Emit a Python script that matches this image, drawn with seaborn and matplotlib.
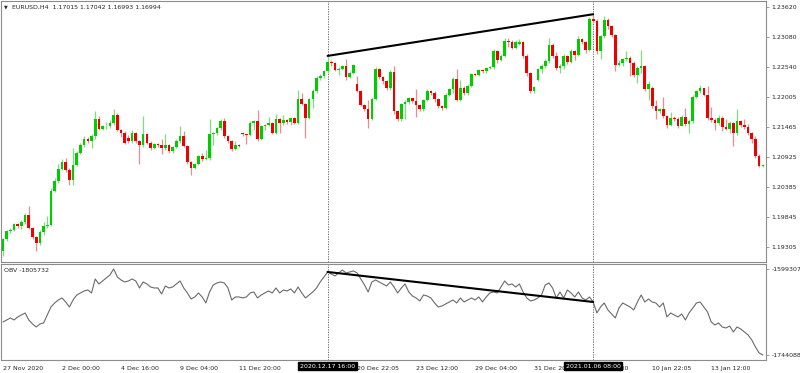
import numpy as np
import pandas as pd
import matplotlib.pyplot as plt
import matplotlib.transforms as mtransforms
import seaborn as sns

# EURUSD H4 candles, bar by bar
opens = [
    1.1922, 1.1944, 1.1958, 1.1961, 1.1971, 1.1968, 1.1975, 1.1988, 1.1964, 1.1948,
    1.1938, 1.1957, 1.1968, 1.1970, 1.2031, 1.2048, 1.2070, 1.2083, 1.2069, 1.2051,
    1.2077, 1.2099, 1.2114, 1.2124, 1.2121, 1.2130, 1.2161, 1.2143, 1.2147, 1.2148,
    1.2154, 1.2168, 1.2141, 1.2136, 1.2127, 1.2120, 1.2135, 1.2120, 1.2114, 1.2133,
    1.2118, 1.2109, 1.2115, 1.2113, 1.2108, 1.2113, 1.2103, 1.2110, 1.2121, 1.2130,
    1.2112, 1.2083, 1.2073, 1.2079, 1.2094, 1.2088, 1.2090, 1.2133, 1.2135, 1.2144,
    1.2157, 1.2130, 1.2121, 1.2106, 1.2113, 1.2135, 1.2133, 1.2132, 1.2154, 1.2156,
    1.2124, 1.2147, 1.2149, 1.2153, 1.2136, 1.2160, 1.2153, 1.2158, 1.2155, 1.2162,
    1.2154, 1.2196, 1.2187, 1.2162, 1.2196, 1.2211, 1.2234, 1.2238, 1.2246, 1.2263,
    1.2261, 1.2249, 1.2250, 1.2255, 1.2236, 1.2243, 1.2223, 1.2211, 1.2186, 1.2178,
    1.2161, 1.2196, 1.2250, 1.2236, 1.2228, 1.2217, 1.2245, 1.2174, 1.2160, 1.2187,
    1.2191, 1.2198, 1.2192, 1.2185, 1.2178, 1.2195, 1.2210, 1.2207, 1.2196, 1.2184,
    1.2180, 1.2204, 1.2214, 1.2232, 1.2195, 1.2216, 1.2207, 1.2220, 1.2241, 1.2240,
    1.2249, 1.2246, 1.2252, 1.2254, 1.2283, 1.2267, 1.2274, 1.2301, 1.2299, 1.2289,
    1.2295, 1.2299, 1.2274, 1.2243, 1.2211, 1.2231, 1.2250, 1.2256, 1.2265, 1.2294,
    1.2273, 1.2252, 1.2255, 1.2274, 1.2263, 1.2283, 1.2276, 1.2304, 1.2299, 1.2285,
    1.2340, 1.2337, 1.2282, 1.2309, 1.2339, 1.2328, 1.2312, 1.2258, 1.2261, 1.2268,
    1.2270, 1.2262, 1.2240, 1.2252, 1.2256, 1.2214, 1.2216, 1.2184, 1.2174, 1.2178,
    1.2166, 1.2150, 1.2163, 1.2161, 1.2148, 1.2164, 1.2151, 1.2157, 1.2200, 1.2210,
    1.2216, 1.2204, 1.2162, 1.2159, 1.2153, 1.2163, 1.2146, 1.2143, 1.2153, 1.2135,
    1.2156, 1.2150, 1.2146, 1.2135, 1.2124, 1.2093, 1.2076,
]
highs = [
    1.1947, 1.1960, 1.1964, 1.1974, 1.1974, 1.1978, 1.1991, 1.2003, 1.1966, 1.1950,
    1.1960, 1.1975, 1.1986, 1.2036, 1.2055, 1.2080, 1.2088, 1.2090, 1.2073, 1.2108,
    1.2102, 1.2117, 1.2129, 1.2128, 1.2133, 1.2175, 1.2165, 1.2150, 1.2155, 1.2158,
    1.2178, 1.2172, 1.2143, 1.2138, 1.2131, 1.2140, 1.2137, 1.2123, 1.2166, 1.2136,
    1.2120, 1.2118, 1.2118, 1.2124, 1.2134, 1.2116, 1.2112, 1.2124, 1.2148, 1.2138,
    1.2114, 1.2085, 1.2081, 1.2096, 1.2100, 1.2104, 1.2160, 1.2137, 1.2146, 1.2160,
    1.2162, 1.2132, 1.2123, 1.2121, 1.2115, 1.2137, 1.2134, 1.2157, 1.2158, 1.2176,
    1.2150, 1.2152, 1.2164, 1.2155, 1.2170, 1.2163, 1.2167, 1.2160, 1.2164, 1.2164,
    1.2213, 1.2207, 1.2190, 1.2199, 1.2214, 1.2237, 1.2241, 1.2248, 1.2274, 1.2266,
    1.2263, 1.2254, 1.2258, 1.2268, 1.2246, 1.2260, 1.2237, 1.2213, 1.2188, 1.2195,
    1.2200, 1.2254, 1.2252, 1.2238, 1.2230, 1.2249, 1.2256, 1.2176, 1.2190, 1.2194,
    1.2200, 1.2199, 1.2215, 1.2187, 1.2197, 1.2214, 1.2212, 1.2210, 1.2198, 1.2186,
    1.2207, 1.2216, 1.2236, 1.2250, 1.2230, 1.2219, 1.2223, 1.2244, 1.2243, 1.2251,
    1.2251, 1.2254, 1.2256, 1.2286, 1.2285, 1.2277, 1.2307, 1.2306, 1.2302, 1.2302,
    1.2304, 1.2301, 1.2277, 1.2245, 1.2220, 1.2253, 1.2259, 1.2268, 1.2306, 1.2297,
    1.2281, 1.2259, 1.2277, 1.2276, 1.2286, 1.2285, 1.2310, 1.2306, 1.2301, 1.2344,
    1.2349, 1.2340, 1.2312, 1.2345, 1.2343, 1.2330, 1.2314, 1.2266, 1.2271, 1.2283,
    1.2273, 1.2264, 1.2255, 1.2285, 1.2258, 1.2228, 1.2220, 1.2195, 1.2181, 1.2200,
    1.2168, 1.2173, 1.2165, 1.2164, 1.2167, 1.2180, 1.2160, 1.2203, 1.2213, 1.2222,
    1.2217, 1.2220, 1.2182, 1.2162, 1.2167, 1.2165, 1.2160, 1.2156, 1.2155, 1.2178,
    1.2158, 1.2160, 1.2151, 1.2137, 1.2130, 1.2097, 1.2079,
]
lows = [
    1.1914, 1.1940, 1.1955, 1.1958, 1.1964, 1.1962, 1.1972, 1.1962, 1.1945, 1.1923,
    1.1934, 1.1952, 1.1965, 1.1967, 1.2029, 1.2046, 1.2068, 1.2065, 1.2042, 1.2041,
    1.2075, 1.2097, 1.2110, 1.2117, 1.2108, 1.2125, 1.2140, 1.2140, 1.2143, 1.2145,
    1.2150, 1.2138, 1.2128, 1.2115, 1.2117, 1.2117, 1.2117, 1.2079, 1.2110, 1.2115,
    1.2105, 1.2106, 1.2110, 1.2097, 1.2105, 1.2100, 1.2100, 1.2108, 1.2118, 1.2110,
    1.2080, 1.2059, 1.2070, 1.2077, 1.2085, 1.2087, 1.2087, 1.2113, 1.2132, 1.2141,
    1.2127, 1.2118, 1.2103, 1.2104, 1.2110, 1.2130, 1.2115, 1.2130, 1.2141, 1.2121,
    1.2122, 1.2141, 1.2147, 1.2133, 1.2133, 1.2135, 1.2150, 1.2152, 1.2150, 1.2151,
    1.2151, 1.2185, 1.2126, 1.2160, 1.2180, 1.2208, 1.2230, 1.2235, 1.2244, 1.2255,
    1.2246, 1.2240, 1.2248, 1.2230, 1.2234, 1.2241, 1.2209, 1.2184, 1.2174, 1.2144,
    1.2158, 1.2194, 1.2232, 1.2223, 1.2212, 1.2213, 1.2170, 1.2157, 1.2157, 1.2160,
    1.2188, 1.2189, 1.2164, 1.2175, 1.2175, 1.2193, 1.2204, 1.2191, 1.2181, 1.2177,
    1.2178, 1.2201, 1.2208, 1.2192, 1.2193, 1.2203, 1.2204, 1.2218, 1.2237, 1.2238,
    1.2243, 1.2244, 1.2250, 1.2251, 1.2262, 1.2264, 1.2272, 1.2290, 1.2286, 1.2287,
    1.2294, 1.2271, 1.2238, 1.2207, 1.2208, 1.2228, 1.2243, 1.2253, 1.2262, 1.2270,
    1.2248, 1.2243, 1.2251, 1.2259, 1.2261, 1.2267, 1.2273, 1.2296, 1.2280, 1.2282,
    1.2333, 1.2278, 1.2268, 1.2306, 1.2323, 1.2308, 1.2246, 1.2255, 1.2255, 1.2264,
    1.2238, 1.2236, 1.2225, 1.2243, 1.2211, 1.2195, 1.2180, 1.2160, 1.2171, 1.2163,
    1.2144, 1.2148, 1.2157, 1.2144, 1.2147, 1.2148, 1.2136, 1.2154, 1.2198, 1.2208,
    1.2202, 1.2158, 1.2155, 1.2140, 1.2150, 1.2138, 1.2141, 1.2136, 1.2111, 1.2132,
    1.2146, 1.2142, 1.2131, 1.2118, 1.2090, 1.2074, 1.2074,
]
closes = [
    1.1944, 1.1958, 1.1961, 1.1971, 1.1968, 1.1975, 1.1988, 1.1964, 1.1948, 1.1938,
    1.1957, 1.1968, 1.1970, 1.2031, 1.2048, 1.2070, 1.2083, 1.2069, 1.2051, 1.2077,
    1.2099, 1.2114, 1.2124, 1.2121, 1.2130, 1.2161, 1.2143, 1.2147, 1.2148, 1.2154,
    1.2168, 1.2141, 1.2136, 1.2118, 1.2120, 1.2135, 1.2120, 1.2114, 1.2133, 1.2118,
    1.2109, 1.2115, 1.2113, 1.2108, 1.2113, 1.2103, 1.2110, 1.2121, 1.2130, 1.2112,
    1.2083, 1.2073, 1.2079, 1.2094, 1.2088, 1.2090, 1.2133, 1.2135, 1.2144, 1.2157,
    1.2130, 1.2121, 1.2106, 1.2113, 1.2112, 1.2133, 1.2132, 1.2154, 1.2156, 1.2124,
    1.2147, 1.2149, 1.2153, 1.2136, 1.2160, 1.2153, 1.2158, 1.2155, 1.2162, 1.2154,
    1.2196, 1.2187, 1.2162, 1.2196, 1.2211, 1.2234, 1.2238, 1.2246, 1.2263, 1.2261,
    1.2249, 1.2250, 1.2255, 1.2236, 1.2243, 1.2257, 1.2211, 1.2186, 1.2178, 1.2161,
    1.2196, 1.2250, 1.2236, 1.2228, 1.2217, 1.2245, 1.2174, 1.2160, 1.2187, 1.2191,
    1.2198, 1.2192, 1.2185, 1.2178, 1.2195, 1.2210, 1.2207, 1.2196, 1.2184, 1.2180,
    1.2204, 1.2214, 1.2232, 1.2195, 1.2216, 1.2207, 1.2220, 1.2241, 1.2240, 1.2249,
    1.2246, 1.2252, 1.2254, 1.2283, 1.2267, 1.2274, 1.2301, 1.2299, 1.2289, 1.2299,
    1.2299, 1.2274, 1.2243, 1.2211, 1.2218, 1.2250, 1.2256, 1.2265, 1.2294, 1.2273,
    1.2252, 1.2255, 1.2274, 1.2263, 1.2283, 1.2276, 1.2304, 1.2299, 1.2285, 1.2340,
    1.2337, 1.2282, 1.2309, 1.2339, 1.2328, 1.2312, 1.2258, 1.2261, 1.2268, 1.2270,
    1.2262, 1.2240, 1.2252, 1.2256, 1.2214, 1.2223, 1.2184, 1.2174, 1.2178, 1.2166,
    1.2150, 1.2163, 1.2161, 1.2148, 1.2164, 1.2151, 1.2157, 1.2200, 1.2210, 1.2216,
    1.2204, 1.2162, 1.2159, 1.2153, 1.2163, 1.2146, 1.2143, 1.2153, 1.2135, 1.2156,
    1.2150, 1.2146, 1.2135, 1.2124, 1.2093, 1.2076, 1.2077,
]
obv = [
    -1688533, -1685166, -1681799, -1685166, -1680115, -1676748, -1673381, -1685166, -1691900, -1696950,
    -1691900, -1690216, -1676748, -1663280, -1656546, -1651496, -1648129, -1654863, -1663280, -1651496,
    -1643078, -1639711, -1636344, -1634661, -1639711, -1616142, -1624560, -1619509, -1614459, -1609408,
    -1599307, -1612775, -1617826, -1621193, -1619509, -1616142, -1619509, -1631294, -1621193, -1624560,
    -1629610, -1631294, -1631294, -1641395, -1627927, -1631294, -1629610, -1624560, -1619509, -1631294,
    -1639711, -1649812, -1646445, -1639711, -1646445, -1656546, -1638028, -1626243, -1622876, -1621193,
    -1622876, -1631294, -1651496, -1646445, -1646445, -1648129, -1646445, -1639711, -1638028, -1648129,
    -1643078, -1639711, -1636344, -1639711, -1631294, -1639711, -1634661, -1636344, -1632977, -1639711,
    -1629610, -1639711, -1648129, -1643078, -1638028, -1631294, -1621193, -1612775, -1604358, -1607725,
    -1611092, -1606041, -1600991, -1606041, -1604358, -1602674, -1606041, -1616142, -1626243, -1638028,
    -1621193, -1617826, -1621193, -1624560, -1627927, -1621193, -1629610, -1639711, -1631294, -1624560,
    -1638028, -1644762, -1648129, -1653179, -1643078, -1644762, -1648129, -1656546, -1663280, -1661597,
    -1658230, -1654863, -1651496, -1656546, -1648129, -1654863, -1651496, -1648129, -1651496, -1646445,
    -1654863, -1646445, -1639711, -1638028, -1639711, -1629610, -1619509, -1626243, -1624560, -1629610,
    -1624560, -1638028, -1648129, -1653179, -1651496, -1648129, -1643078, -1626243, -1622876, -1631294,
    -1648129, -1638028, -1648129, -1634661, -1639711, -1646445, -1638028, -1648129, -1651496, -1646445,
    -1654863, -1673381, -1663280, -1656546, -1668331, -1675065, -1681799, -1664964, -1656546, -1659913,
    -1663280, -1668331, -1654863, -1643078, -1654863, -1649812, -1654863, -1656546, -1663280, -1656546,
    -1680115, -1673381, -1676748, -1680115, -1675065, -1685166, -1673381, -1664964, -1656546, -1654863,
    -1663280, -1671698, -1688533, -1693583, -1690216, -1696950, -1698634, -1695267, -1705368, -1696950,
    -1700317, -1705368, -1710418, -1718836, -1730620, -1740721, -1744088,
]

price_ticks = [1.23620, 1.23080, 1.22540, 1.22005, 1.21465, 1.20925, 1.20385, 1.19845, 1.19305]
obv_ticks = [-1599307, -1744088]
date_ticks = [0, 16, 32, 48, 64, 96, 112, 128, 144, 160, 176, 192]
date_labels = ["27 Nov 2020", "2 Dec 00:00", "4 Dec 16:00", "9 Dec 04:00", "11 Dec 20:00",
               "20 Dec 22:05", "23 Dec 12:00", "29 Dec 04:00", "31 Dec 20:00",
               "5 Jan 12:00", "10 Jan 22:05", "13 Jan 12:00"]
marks = [88, 160]
mark_labels = ["2020.12.17 16:00", "2021.01.06 08:00"]
title = "EURUSD,H4  1.17015 1.17042 1.16993 1.16994"
obv_title = "OBV -1805732"

sns.set_style("white")
plt.rcParams['font.family'] = ['DejaVu Sans']
fs = 4.5
frame = '#8c8c8c'

df = pd.DataFrame({'open': opens, 'high': highs, 'low': lows, 'close': closes, 'obv': obv})
df['bar'] = np.arange(len(df))
up = df['close'] >= df['open']

fig = plt.figure(figsize=(8, 3.73), dpi=100)
ax = fig.add_axes([0.00125, 0.2976, 0.956, 0.6997])
ax2 = fig.add_axes([0.00125, 0.0349, 0.956, 0.2574], sharex=ax)

# candles
for mask, body, wick in [(up, '#00cc00', '#7fdc7f'), (~up, '#ee0000', '#f38a8a')]:
    d = df[mask]
    ax.vlines(d['bar'], d['low'], d['high'], color=wick, lw=0.9, zorder=2)
    ax.bar(d['bar'], np.maximum((d['close'] - d['open']).abs(), 0.00012),
           bottom=np.minimum(d['open'], d['close']), width=0.72, color=body,
           linewidth=0, zorder=3)

# OBV line
sns.lineplot(x=df['bar'], y=df['obv'], ax=ax2, color='#6a6a6a', lw=0.8, estimator=None)

# divergence trend lines and crosshair markers
a, b = marks
ax.plot([a, b], [df['high'][a], df['high'][b]], color='black', lw=1.5, zorder=4)
ax2.plot([a, b], [df['obv'][a], df['obv'][b]], color='black', lw=1.5, zorder=4)
for m in marks:
    for axx in (ax, ax2):
        axx.axvline(m, color='#555555', lw=0.6, ls=(0, (1.5, 1.5)), zorder=1)

ax.set_xlim(-0.54, 206.8)
ax.set_ylim(1.1903, 1.23728)
ax2.set_ylim(-1752506, -1590890)

for axx in (ax, ax2):
    axx.set_xlabel('')
    axx.set_ylabel('')
    axx.yaxis.tick_right()
    for s in axx.spines.values():
        s.set_color(frame)
        s.set_linewidth(0.8)
    axx.tick_params(axis='y', labelsize=fs, length=2, width=0.6, color=frame, pad=2)

ax.set_yticks(price_ticks)
ax.set_yticklabels([f"{p:.5f}" for p in price_ticks])
ax.tick_params(axis='x', bottom=False, labelbottom=False)

ax2.set_yticks(obv_ticks)
ax2.set_yticklabels([str(v) for v in obv_ticks])
ax2.set_xticks(date_ticks)
ax2.set_xticklabels(date_labels)
ax2.tick_params(axis='x', labelsize=fs, length=3, width=0.6, color=frame, pad=1.5)
for lbl in ax2.get_xticklabels():
    lbl.set_horizontalalignment('left')

# highlighted time labels under the crosshair lines
trans = mtransforms.blended_transform_factory(ax2.transData, ax2.transAxes)
for m, txt in zip(marks, mark_labels):
    ax2.text(m, -0.065, txt, transform=trans, ha='center', va='center', color='white',
             fontsize=fs, zorder=10,
             bbox=dict(boxstyle='square,pad=0.25', facecolor='black', edgecolor='black'))

ax.text(0.0045, 0.977, '\u25bc', transform=ax.transAxes, fontsize=3.5, va='center', ha='left')
ax.text(0.0145, 0.977, title, transform=ax.transAxes, fontsize=fs, va='center', ha='left')
ax2.text(0.004, 0.937, obv_title, transform=ax2.transAxes, fontsize=fs, va='center', ha='left')

fig.savefig('out.png', dpi=100, facecolor='white')
